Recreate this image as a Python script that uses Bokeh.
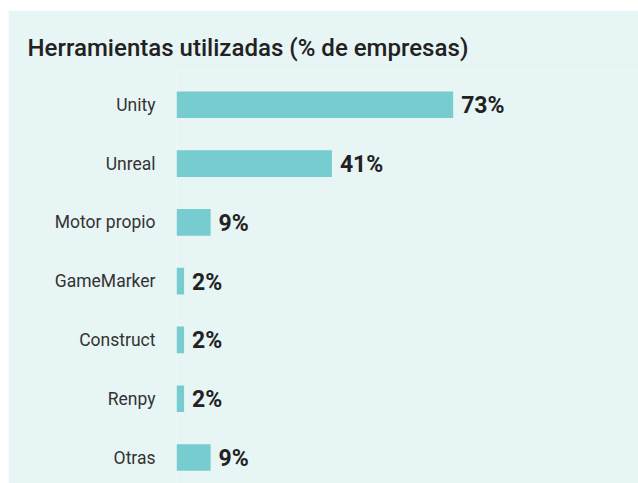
from bokeh.plotting import figure
from bokeh.models import Range1d, FixedTicker, ColumnDataSource, Spacer
from bokeh.layouts import column, row
from bokeh.core.properties import value
from bokeh.embed import file_html
from bokeh.resources import INLINE

categories = ["Unity", "Unreal", "Motor propio", "GameMarker", "Construct", "Renpy", "Otras"]
values = [73, 41, 9, 2, 2, 2, 9]
value_labels = ["73%", "41%", "9%", "2%", "2%", "2%", "9%"]

BG = "#E8F5F5"
BAR = "#76CCCF"

pos = list(range(len(categories)))
src = ColumnDataSource(dict(y=pos, v=values, lab=value_labels))

p = figure(width=630, height=473, output_backend="svg", toolbar_location=None,
           x_range=Range1d(0, 121.9), y_range=Range1d(6.442, -0.583),
           title="Herramientas utilizadas (% de empresas)")
p.min_border_left = 168
p.min_border_right = 0
p.min_border_top = 60
p.min_border_bottom = 0
p.background_fill_color = BG
p.border_fill_color = BG
p.outline_line_color = None
p.xgrid.visible = False
p.ygrid.visible = False
p.xaxis.visible = False

p.title.text_font = "Roboto Medium, Roboto"
p.title.text_font_size = "24px"
p.title.text_font_style = "normal"
p.title.text_color = "#222222"
p.title.offset = -149
p.title.standoff = 17

ax = p.yaxis[0]
ax.ticker = FixedTicker(ticks=pos)
ax.major_label_overrides = {i: c for i, c in zip(pos, categories)}
ax.axis_line_color = None
ax.major_tick_line_color = None
ax.minor_tick_line_color = None
ax.major_label_standoff = 15
ax.major_label_text_font = "Roboto"
ax.major_label_text_font_size = "17.5px"
ax.major_label_text_color = "#333333"

p.hbar(y="y", right="v", left=0, height=0.454, source=src, fill_color=BAR, line_color=None)
p.text(x="v", y="y", text="lab", source=src, x_offset=8, y_offset=1,
       text_font=value("Roboto"), text_font_size="23px", text_font_style="bold",
       text_color="#222222", text_baseline="middle", text_align="left")

layout = row(Spacer(width=8), column(Spacer(height=10), p))
open("out.html", "w").write(file_html(layout, INLINE))
